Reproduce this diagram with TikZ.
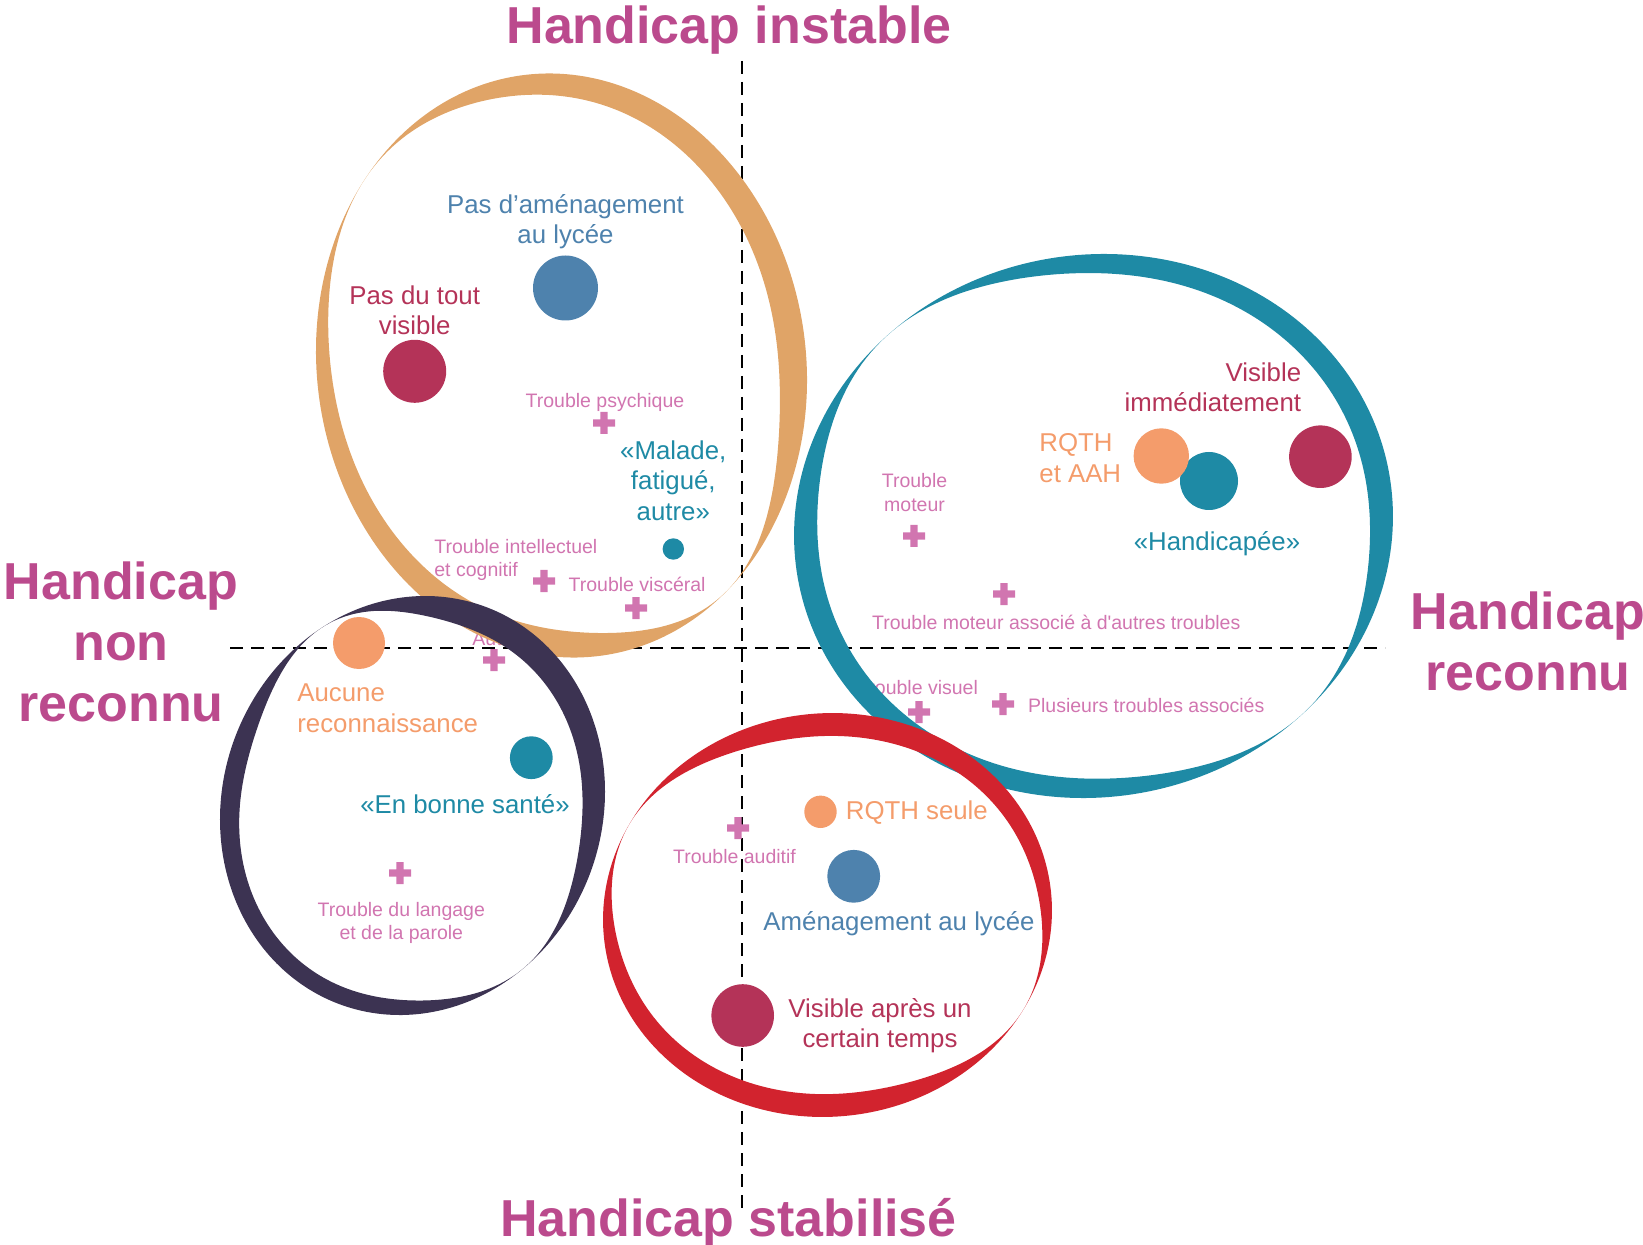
\documentclass[tikz,border=0pt]{standalone}
\usepackage{fontspec}
\setmainfont{Liberation Sans}
\usepackage{xcolor}
\usepackage{tikz}
\usetikzlibrary{positioning}

\definecolor{titlepink}{HTML}{BB4A8D}
\definecolor{troublepink}{HTML}{D175B0}
\definecolor{ringorange}{HTML}{E0A467}
\definecolor{ringteal}{HTML}{1E8AA5}
\definecolor{ringdark}{HTML}{3C3352}
\definecolor{ringred}{HTML}{D2232E}
\definecolor{crimson}{HTML}{B43358}
\definecolor{steelblue}{HTML}{4E82AD}
\definecolor{apricot}{HTML}{F49C6B}

% lopsided part of the ring width (amount, direction)
\def\ringU{0}
\def\ringBeta{0}
% brush ring: centre x, centre y, half axes, tilt, width, width swing, two thin angles
\newcommand{\brushring}[9]{%
  plot[domain=0:360, samples=241, variable=\ang]
    ({#1+#3*cos(\ang)*cos(#5)-#4*sin(\ang)*sin(#5)},
     {#2-#3*cos(\ang)*sin(#5)-#4*sin(\ang)*cos(#5)})
  plot[domain=0:360, samples=241, variable=\ang]
    ({#1+(#3*cos(\ang)*cos(#5)-#4*sin(\ang)*sin(#5))*(1-max(0,(#6+#7*cos(2*(\ang+#5))+\ringU*cos(\ang+#5-\ringBeta))*(1-(cos((\ang+#5-#8)/2)^2)^16-(cos((\ang+#5-#9)/2)^2)^16))/veclen(#3*cos(\ang),#4*sin(\ang)))},
     {#2-(#3*cos(\ang)*sin(#5)+#4*sin(\ang)*cos(#5))*(1-max(0,(#6+#7*cos(2*(\ang+#5))+\ringU*cos(\ang+#5-\ringBeta))*(1-(cos((\ang+#5-#8)/2)^2)^16-(cos((\ang+#5-#9)/2)^2)^16))/veclen(#3*cos(\ang),#4*sin(\ang)))})}

\begin{document}
\begin{tikzpicture}[x=0.5pt, y=-0.5pt,
    title/.style={text=titlepink, font=\bfseries\fontsize{26}{30.5}\selectfont, align=center, inner sep=0},
    big/.style={font=\fontsize{12.9}{15.3}\selectfont, inner sep=0},
    small/.style={text=troublepink, font=\fontsize{9.75}{11.6}\selectfont, inner sep=0},
    dot/.style={circle, fill, inner sep=0},
    axis/.style={line width=1pt, dash pattern=on 6.5pt off 4pt},
    plus/.pic={\fill[troublepink] (-11,-3.7) rectangle (11,3.7) (-3.7,-11) rectangle (3.7,11);}]
    \useasboundingbox (0,0) rectangle (1643,1245);

    % troubles
    \node[small, anchor=north west] (lAutisme) at (472,631) {Autisme};
    \node[small, anchor=north east] (lVisuel) at (978.3,680) {Trouble visuel};
    \node[small, anchor=north] (lPsy) at (605,392.5) {Trouble psychique};
    \node[small, anchor=north west, align=left] (lIntel) at (434,538.5) {Trouble intellectuel\\et cognitif};
    \node[small, anchor=north west] (lVisc) at (568.3,576.7) {Trouble viscéral};
    \node[small, anchor=north, align=center] (lMoteur) at (914.5,473.3) {Trouble\\moteur};
    \node[small, anchor=north west] (lMoteurAss) at (871.7,615) {Trouble moteur associé à d\textquotesingle autres troubles};
    \node[small, anchor=north west] (lPlusieurs) at (1027.7,697.3) {Plusieurs troubles associés};
    \node[small, anchor=north] (lAuditif) at (734.5,849.3) {Trouble auditif};
    \node[small, anchor=north, align=center] (lLangage) at (401.3,901.7) {Trouble du langage\\et de la parole};

    % axes
    \coordinate (axTop) at (742,61);
    \coordinate (axBottom) at (742,1215);
    \coordinate (axLeft) at (230,647.5);
    \coordinate (axRight) at (1385,647.5);
    \draw[axis] (axTop) -- (axBottom);
    \draw[axis] (axLeft) -- (axRight);

    \pic (xPsy) at (604,423) {plus};
    \pic (xIntel) at (544,581) {plus};
    \pic (xVisc) at (636,608) {plus};
    \pic (xAutisme) at (494,660) {plus};
    \pic (xMoteur) at (914,536) {plus};
    \pic (xMoteurAss) at (1004,594) {plus};
    \pic (xVisuel) at (919,712) {plus};
    \pic (xPlusieurs) at (1003,704) {plus};
    \pic (xAuditif) at (738,828) {plus};
    \pic (xLangage) at (400,873) {plus};

    % points
    \node[dot, steelblue, minimum size=32.5pt] (amenNo) at (565.5,288) {};
    \node[dot, crimson, minimum size=31.5pt] (visNo) at (414.7,371.3) {};
    \node[dot, ringteal, minimum size=10.7pt] (malade) at (673.3,549) {};
    \node[dot, apricot, minimum size=26pt] (aucune) at (359,643) {};
    \node[dot, ringteal, minimum size=21.4pt] (sante) at (531.3,757.7) {};
    \node[dot, apricot, minimum size=16.2pt] (rqthSeule) at (820.5,811.8) {};
    \node[dot, steelblue, minimum size=26.4pt] (amenOui) at (853.7,876.3) {};
    \node[dot, crimson, minimum size=31.3pt] (visApres) at (742.7,1015.5) {};
    \node[dot, ringteal, minimum size=29pt] (handicapee) at (1209,481) {};
    \node[dot, apricot, minimum size=27.7pt] (rqthAah) at (1161.3,456) {};
    \node[dot, crimson, minimum size=31.3pt] (visImm) at (1320.4,456.7) {};

    \node[big, text=steelblue, anchor=north, align=center] (lAmenNo) at (565.5,194) {Pas d’aménagement\\au lycée};
    \node[big, text=crimson, anchor=north, align=center] (lVisNo) at (414.7,285) {Pas du tout\\visible};
    \node[big, text=ringteal, anchor=north, align=center] (lMalade) at (673.3,440) {«Malade,\\fatigué,\\autre»};
    \node[big, text=crimson, anchor=north east, align=right] (lVisImm) at (1301.5,362) {Visible\\immédiatement};
    \node[big, text=apricot, anchor=north west, align=left] (lRqthAah) at (1039,433.3) {RQTH\\et AAH};
    \node[big, text=ringteal, anchor=north] (lHandicapee) at (1217,530.7) {«Handicapée»};
    \node[big, text=apricot, anchor=north west, align=left] (lAucune) at (297,683.3) {Aucune\\reconnaissance};
    \node[big, text=ringteal, anchor=north] (lSante) at (465,794) {«En bonne santé»};
    \node[big, text=apricot, anchor=north west] (lRqthSeule) at (845.5,800) {RQTH seule};
    \node[big, text=steelblue, anchor=north] (lAmenOui) at (899,911) {Aménagement au lycée};
    \node[big, text=crimson, anchor=north, align=center] (lVisApres) at (880,997.7) {Visible après un\\certain temps};

    % rings
    \def\ringU{7.3}\def\ringBeta{330}
    \fill[ringorange, even odd rule] \brushring{561.5}{365.5}{244.5}{292.9}{8}{24.6}{-1.7}{142}{311};
    \def\ringU{5}\def\ringBeta{70}
    \fill[ringdark, even odd rule] \brushring{412.5}{805.5}{190.1}{211.7}{341}{22}{-0.7}{120}{307};
    \def\ringU{0}
    \fill[ringteal, even odd rule] \brushring{1093.5}{526}{300.3}{271.1}{10}{23}{2}{134}{315};
    \fill[ringred, even odd rule] \brushring{827.5}{915}{224.7}{201.7}{6}{20}{-3}{153}{331};

    \node[title, anchor=north] (tInstable) at (729,5) {Handicap instable};
    \node[title, anchor=north] (tStabilise) at (728.5,1198) {Handicap stabilisé};
    \node[title, anchor=north] (tNonReconnu) at (121,561.5) {Handicap\\non\\reconnu};
    \node[title, anchor=north] (tReconnu) at (1528,591) {Handicap\\reconnu};
\end{tikzpicture}
\end{document}
